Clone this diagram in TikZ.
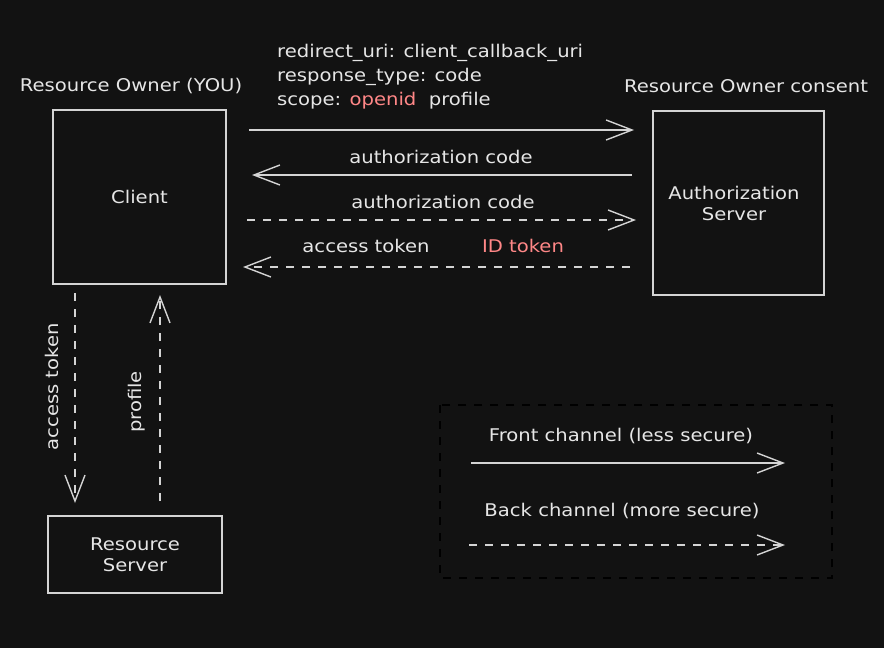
\documentclass[tikz,border=0pt]{standalone}
\usepackage{fontspec}
\setmainfont[FakeStretch=1.12]{DejaVu Sans}
\usetikzlibrary{arrows.meta}
\definecolor{bg}{HTML}{121212}
\definecolor{fg}{HTML}{E6E6E6}
\definecolor{stroke}{HTML}{D4D4D4}
\definecolor{redt}{HTML}{FF8787}
\begin{document}
\begin{tikzpicture}[x=1pt,y=-1pt,
  box/.style={draw=stroke,line width=1.4pt,fill=bg,minimum width=#1,inner sep=0pt},
  lbl/.style={text=fg,font=\fontsize{17.5}{22}\selectfont,inner sep=0pt},
  conn/.style={draw=stroke,line width=1.4pt,-{Straight Barb[length=26pt,width=20pt,line width=1.4pt]}},
  dashline/.style={dash pattern=on 8pt off 8pt}]
\fill[bg] (0,0) rectangle (884,648);
\useasboundingbox (0,0) rectangle (884,648);
% boxes
\node[box=173pt,minimum height=174pt] (client) at (139.5,197) {};
\node[lbl] at (client) {Client};
\node[box=171pt,minimum height=184pt] (auth) at (738.5,203) {};
\node[lbl,align=center] at (734,203) {Authorization\\[-1pt]Server};
\node[box=174pt,minimum height=77pt] (rs) at (135,554.5) {};
\node[lbl,align=center] at (135,555) {Resource\\[-1pt]Server};
\node[lbl] (rowner) at (131,86) {Resource Owner (YOU)};
\node[lbl] (consent) at (746,86) {Resource Owner consent};
% request params
\node[lbl,anchor=west] (p1) at (277,53) {redirect\_uri: client\_callback\_uri};
\node[lbl,anchor=west] (p2) at (277,77) {response\_type: code};
\node[lbl,anchor=west] (p3) at (277,101) {scope: \textcolor{redt}{openid}\ \ profile};
% coordinates
\coordinate (c1) at (249,130); \coordinate (a1) at (634,130);
\coordinate (a2) at (632,175); \coordinate (c2) at (252,175);
\coordinate (c3) at (247,220); \coordinate (a3) at (636,220);
\coordinate (a4) at (630,267); \coordinate (c4) at (243,267);
\coordinate (v1s) at (75,293); \coordinate (v1e) at (75,503);
\coordinate (v2s) at (160,501); \coordinate (v2e) at (160,295);
\draw[conn] (c1) -- (a1);
\draw[conn] (a2) -- (c2);
\node[lbl] (l2) at (441,157) {authorization code};
\draw[conn,dashline] (c3) -- (a3);
\node[lbl] (l3) at (443,202) {authorization code};
\draw[conn,dashline] (a4) -- (c4);
\node[lbl] (l4) at (366,246) {access token};
\node[lbl,text=redt] (l5) at (523,246) {ID token};
\draw[conn,dashline] (v1s) -- (v1e);
\node[lbl,rotate=90] (l6) at (52,387) {access token};
\draw[conn,dashline] (v2s) -- (v2e);
\node[lbl,rotate=90] (l7) at (137,402) {profile};
% legend
\draw[stroke,line width=1.4pt,dashline] (440,405) rectangle (832,578);
\node[lbl] (f) at (621,436) {Front channel (less secure)};
\coordinate (fs) at (471,463); \coordinate (fe) at (785,463);
\draw[conn] (fs) -- (fe);
\node[lbl] (b) at (622,511) {Back channel (more secure)};
\coordinate (bs) at (469,545); \coordinate (be) at (785,545);
\draw[conn,dashline] (bs) -- (be);
\end{tikzpicture}
\end{document}
